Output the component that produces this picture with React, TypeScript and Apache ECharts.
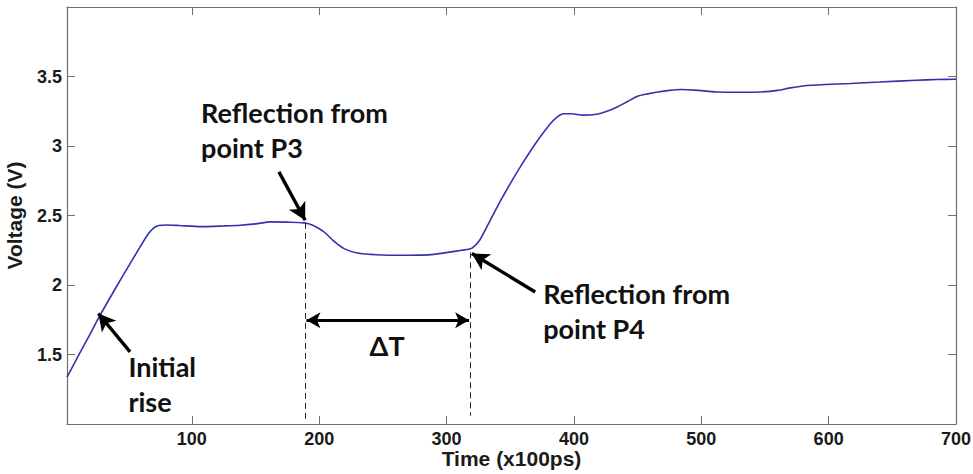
import React, { useEffect, useRef } from "react";
import * as echarts from "echarts";

// Waveform samples
const timeValues = [
  2, 10, 20, 28, 40, 50, 59.4, 66, 70, 74, 80, 90, 107, 125, 138, 150, 162, 175, 188,
  195, 204, 211, 220, 230, 245, 264, 280, 290, 305, 316, 320, 326, 334, 342, 352, 360,
  370, 381, 387, 392, 398, 407, 418, 426, 434, 442, 450, 458, 466, 475, 484, 495, 512,
  530, 547, 560, 570, 580, 597, 617, 640, 669, 685, 700,
];
const voltageValues = [
  1.337, 1.475, 1.645, 1.783, 1.975, 2.13, 2.274, 2.37, 2.41, 2.428, 2.432, 2.428, 2.42,
  2.425, 2.43, 2.44, 2.454, 2.452, 2.447, 2.43, 2.38, 2.32, 2.26, 2.23, 2.218, 2.214,
  2.215, 2.22, 2.24, 2.255, 2.265, 2.322, 2.46, 2.6, 2.76, 2.88, 3.02, 3.155, 3.21,
  3.232, 3.232, 3.222, 3.229, 3.25, 3.281, 3.32, 3.358, 3.375, 3.389, 3.4, 3.406, 3.402,
  3.389, 3.387, 3.389, 3.4, 3.418, 3.432, 3.442, 3.45, 3.46, 3.473, 3.478, 3.48,
];

const xTickValues = [100, 200, 300, 400, 500, 600, 700];
const yTickValues = [1, 1.5, 2, 2.5, 3, 3.5, 4];
const yLabelValues = [1.5, 2, 2.5, 3, 3.5];

// Annotation anchors (data coordinates)
const p3Time = 189;
const p4Time = 318.7;
const p3Arrow = [[168.4, 2.814], [189, 2.466]];
const p4Arrow = [[369.6, 1.95], [319.9, 2.227]];
const initArrow = [[51.5, 1.519], [26.6, 1.795]];
const deltaArrowY = 1.747;
const annotationTexts = [
  { text: "Reflection from", at: [107.3, 3.243] },
  { text: "point P3", at: [107.3, 2.99] },
  { text: "Reflection from", at: [375.9, 1.941] },
  { text: "point P4", at: [375.9, 1.689] },
  { text: "Initial", at: [50.2, 1.411] },
  { text: "rise", at: [50.2, 1.159] },
];
const deltaLabel = { text: "ΔT", at: [253.3, 1.568] };

export default function App() {
  const ref = useRef<HTMLDivElement>(null);
  useEffect(() => {
    document.body.style.margin = "0";
    if (!ref.current) return;
    const chart = echarts.init(ref.current, undefined, { renderer: "svg" });
    const axisColor = "#6e6e6e";
    const labelFont = {
      fontFamily: "Liberation Sans, Arial, sans-serif",
      fontWeight: "bold" as const,
      fontSize: 18,
      color: "#1a1a1a",
    };
    const annFont = "Lato, Open Sans, sans-serif";
    const arrowStyle = { color: "#000", width: 3.4, type: "solid" as const };
    const dashStyle = { color: "#222", width: 1, type: [6, 4] as any };

    const option: any = {
      animation: false,
      grid: { left: 67, right: 17, top: 7, bottom: 50, containLabel: false, outerBoundsMode: "none" },
      xAxis: [
        {
          type: "value",
          min: 2,
          max: 700,
          name: "Time (x100ps)",
          nameLocation: "middle",
          nameGap: 24,
          nameMoveOverlap: false,
          nameTextStyle: { ...labelFont, fontSize: 21 },
          axisLine: { show: true, lineStyle: { color: axisColor, width: 1.2 } },
          axisTick: { show: true, inside: true, length: 8, customValues: xTickValues, lineStyle: { color: axisColor } },
          axisLabel: { ...labelFont, margin: 6, customValues: xTickValues },
          splitLine: { show: false },
        },
        {
          type: "value",
          position: "top",
          min: 2,
          max: 700,
          axisLine: { show: true, lineStyle: { color: axisColor, width: 1.2 } },
          axisTick: { show: true, inside: true, length: 8, customValues: xTickValues, lineStyle: { color: axisColor } },
          axisLabel: { show: false },
          splitLine: { show: false },
        },
      ],
      yAxis: [
        {
          type: "value",
          min: 1,
          max: 4,
          name: "Voltage (V)",
          nameLocation: "middle",
          nameGap: 42,
          nameTextStyle: { ...labelFont, fontSize: 21 },
          axisLine: { show: true, lineStyle: { color: axisColor, width: 1.2 } },
          axisTick: { show: true, inside: true, length: 8, customValues: yTickValues, lineStyle: { color: axisColor } },
          axisLabel: { ...labelFont, margin: 5, customValues: yLabelValues },
          splitLine: { show: false },
        },
        {
          type: "value",
          position: "right",
          min: 1,
          max: 4,
          axisLine: { show: true, lineStyle: { color: axisColor, width: 1.2 } },
          axisTick: { show: true, inside: true, length: 8, customValues: yTickValues, lineStyle: { color: axisColor } },
          axisLabel: { show: false },
          splitLine: { show: false },
        },
      ],
      series: [
        {
          type: "line",
          xAxisIndex: 0,
          yAxisIndex: 0,
          data: timeValues.map((t, i) => [t, voltageValues[i]]),
          showSymbol: false,
          smooth: 0.25,
          lineStyle: { color: "#3232aa", width: 1.6 },
          markLine: {
            silent: true,
            animation: false,
            label: { show: false },
            data: [
              [
                { coord: [p3Time, 2.447], symbol: "none", lineStyle: dashStyle },
                { coord: [p3Time, 1.03], symbol: "none" },
              ],
              [
                { coord: [p4Time, 2.235], symbol: "none", lineStyle: dashStyle },
                { coord: [p4Time, 1.06], symbol: "none" },
              ],
              [
                { coord: [p3Time + 1, deltaArrowY], symbol: "arrow", symbolSize: [12, 14], lineStyle: { color: "#000", width: 2.8, type: "solid" } },
                { coord: [p4Time - 1, deltaArrowY], symbol: "arrow", symbolSize: [12, 14] },
              ],
              [
                { coord: p3Arrow[0], symbol: "none", lineStyle: arrowStyle },
                { coord: p3Arrow[1], symbol: "arrow", symbolSize: [14, 17] },
              ],
              [
                { coord: p4Arrow[0], symbol: "none", lineStyle: arrowStyle },
                { coord: p4Arrow[1], symbol: "arrow", symbolSize: [14, 17] },
              ],
              [
                { coord: initArrow[0], symbol: "none", lineStyle: arrowStyle },
                { coord: initArrow[1], symbol: "arrow", symbolSize: [14, 17] },
              ],
            ],
          },
        },
      ],
    };
    chart.setOption(option);

    const toPx = (p: number[]) => chart.convertToPixel({ xAxisIndex: 0, yAxisIndex: 0 }, p) as number[];
    const graphics: any[] = annotationTexts.map((a) => {
      const [x, y] = toPx(a.at);
      return {
        type: "text",
        x,
        y,
        style: {
          text: a.text,
          font: `bold 27px ${annFont}`,
          fill: "#111",
          textAlign: "left",
          textVerticalAlign: "middle",
        },
      };
    });
    const [dx, dy] = toPx(deltaLabel.at);
    graphics.push({
      type: "text",
      x: dx,
      y: dy,
      style: {
        text: deltaLabel.text,
        font: `bold 27px ${annFont}`,
        fill: "#111",
        textAlign: "center",
        textVerticalAlign: "middle",
      },
    });
    chart.setOption({ graphic: graphics });

    return () => chart.dispose();
  }, []);
  return <div ref={ref} style={{ width: 973, height: 474 }} />;
}
